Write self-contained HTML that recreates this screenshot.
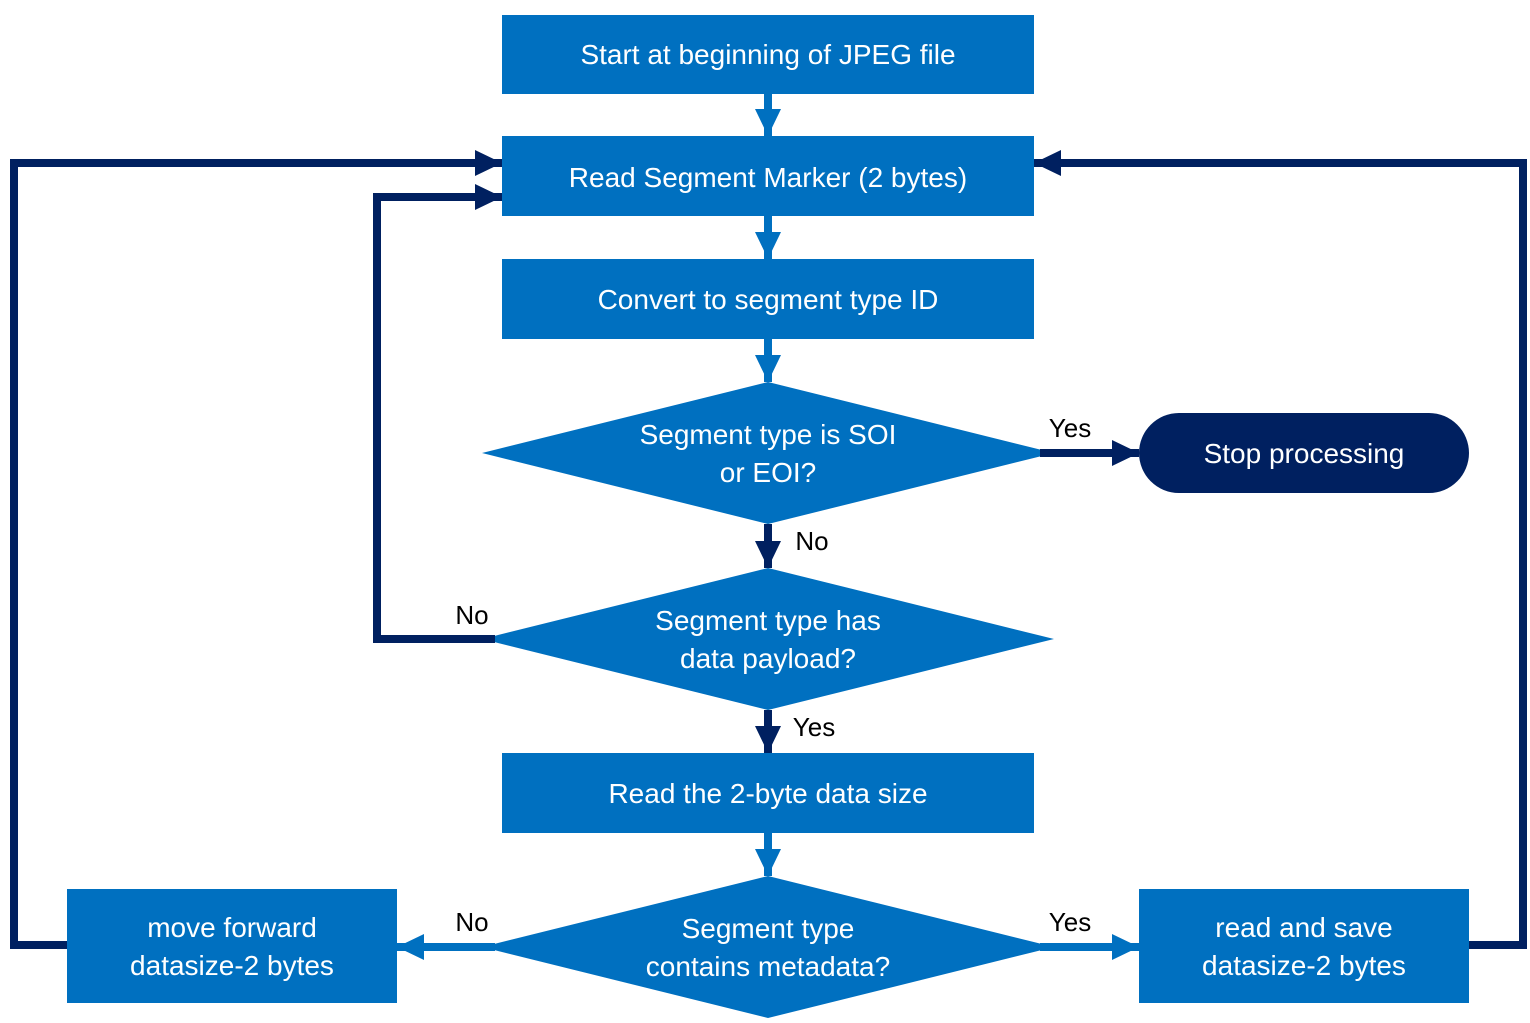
<!DOCTYPE html>
<html><head><style>body{margin:0;background:#fff}svg{display:block}</style></head><body>
<svg width="1530" height="1023" xmlns="http://www.w3.org/2000/svg" font-family="Liberation Sans, sans-serif" font-size="26">
<defs>
<marker id="d" markerUnits="userSpaceOnUse" markerWidth="28" markerHeight="28" refX="27" refY="13" orient="auto"><path d="M0,0 L27,13 L0,26 Z" fill="#002060"/></marker>
<marker id="b" markerUnits="userSpaceOnUse" markerWidth="28" markerHeight="28" refX="27" refY="13" orient="auto"><path d="M0,0 L27,13 L0,26 Z" fill="#0070C0"/></marker>
</defs>
<g fill="#0070C0">
<rect x="502" y="15" width="532" height="79"/>
<rect x="502" y="136" width="532" height="80"/>
<rect x="502" y="259" width="532" height="80"/>
<rect x="502" y="753" width="532" height="80"/>
<rect x="67" y="889" width="330" height="114"/>
<rect x="1139" y="889" width="330" height="114"/>
<polygon points="482,453 768,382 1054,453 768,524"/>
<polygon points="482,639 768,568 1054,639 768,710"/>
<polygon points="482,947 768,876 1054,947 768,1018"/>
</g>
<rect x="1139" y="413" width="330" height="80" rx="40" fill="#002060"/>
<g stroke="#0070C0" stroke-width="8" fill="none" marker-end="url(#b)">
<line x1="768" y1="94" x2="768" y2="136"/>
<line x1="768" y1="216" x2="768" y2="259"/>
<line x1="768" y1="339" x2="768" y2="382"/>
<line x1="768" y1="833" x2="768" y2="876"/>
<line x1="495" y1="947" x2="397" y2="947"/>
<line x1="1040" y1="947" x2="1139" y2="947"/>
</g>
<g stroke="#002060" stroke-width="8" fill="none" marker-end="url(#d)">
<line x1="768" y1="524" x2="768" y2="568"/>
<line x1="768" y1="710" x2="768" y2="753"/>
<line x1="1040" y1="453" x2="1139" y2="453"/>
<polyline points="67,945 14,945 14,163 502,163"/>
<polyline points="495,639 377,639 377,197 502,197"/>
<polyline points="1469,945 1523,945 1523,163 1034,163"/>
</g>
<g fill="#fff" text-anchor="middle" font-size="28">
<text x="768" y="64">Start at beginning of JPEG file</text>
<text x="768" y="187">Read Segment Marker (2 bytes)</text>
<text x="768" y="309">Convert to segment type ID</text>
<text x="768" y="444">Segment type is SOI</text>
<text x="768" y="482">or EOI?</text>
<text x="768" y="630">Segment type has</text>
<text x="768" y="668">data payload?</text>
<text x="768" y="803">Read the 2-byte data size</text>
<text x="768" y="938">Segment type</text>
<text x="768" y="976">contains metadata?</text>
<text x="232" y="937">move forward</text>
<text x="232" y="975">datasize-2 bytes</text>
<text x="1304" y="937">read and save</text>
<text x="1304" y="975">datasize-2 bytes</text>
<text x="1304" y="463">Stop processing</text>
</g>
<g fill="#000" text-anchor="middle">
<text x="1070" y="437">Yes</text>
<text x="812" y="550">No</text>
<text x="472" y="624">No</text>
<text x="814" y="736">Yes</text>
<text x="472" y="931">No</text>
<text x="1070" y="931">Yes</text>
</g>
</svg>
</body></html>
